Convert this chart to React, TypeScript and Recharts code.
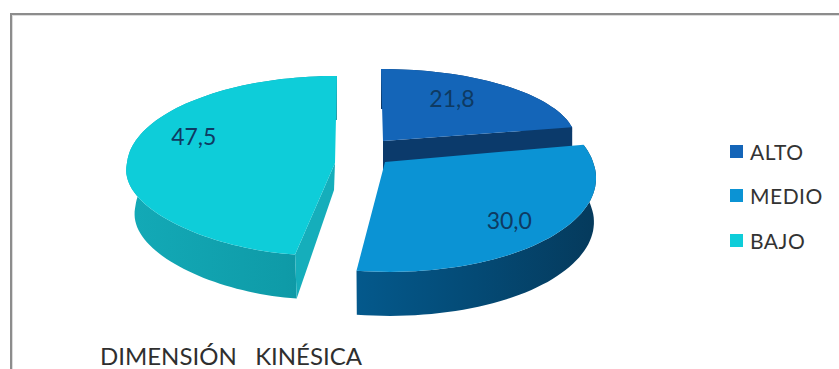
import { Legend, Pie, PieChart } from "recharts";

const CATEGORIES = ["ALTO", "MEDIO", "BAJO"];
const VALUES = [21.8, 30.0, 47.5];
const FILLS = ["#1465b8", "#0b93d4", "#0ecdd9"];

const rows = CATEGORIES.map((name, i) => ({ name, value: VALUES[i], fill: FILLS[i] }));

const WIDTH = 839;
const HEIGHT = 369;
const FONT = "Lato, 'Open Sans', sans-serif";

// Per-slice look of the exploded 3D pie: offset from the pie centre, foreshortening and extrusion.
const SLICES = [
  { dx: 23, dy: -22, rx: 193, ry: 72, k: 0, skewBack: -2, skewFront: 0, pinch: 0, drop: 40, taper: 1, wall: "#0b3a6b", cut: "#0b3a6b", label: [31.3, 0.7] },
  { dx: 25, dy: -1, rx: 208, ry: 93.4, k: 0.15, skewBack: 0, skewFront: -4, pinch: 0, drop: 44, taper: 0.99, wall: "url(#wallMedio)", cut: null, label: [136.6, 0.78] },
  { dx: -25, dy: 0, rx: 208, ry: 89.7, k: 0.03, skewBack: 2, skewFront: 14, pinch: 0.12, drop: 44, taper: 0.96, wall: "url(#wallBajo)", cut: "#15aebb", label: [293.5, 0.75] },
];

function project(s: (typeof SLICES)[number], theta: number, r = 1) {
  const rad = (theta * Math.PI) / 180;
  const u = Math.sin(rad) * r;
  const v = Math.cos(rad) * r;
  const w = 1 + s.k * v;
  const skew = v > 0 ? s.skewBack : s.skewFront;
  // front half of a slice can be drawn in slightly, so the rim flattens toward the viewer
  const rx = v < 0 ? s.rx * (1 - s.pinch * v * v) : s.rx;
  return { x: (rx * u + skew * v) / w, y: (-s.ry * v) / w };
}

function arcPoints(s: (typeof SLICES)[number], from: number, to: number) {
  const pts = [];
  const steps = Math.max(2, Math.ceil((to - from) / 2));
  for (let i = 0; i <= steps; i++) pts.push(project(s, from + ((to - from) * i) / steps));
  return pts;
}

function toPath(pts: { x: number; y: number }[]) {
  return pts.map((p, i) => `${i ? "L" : "M"}${p.x.toFixed(1)},${p.y.toFixed(1)}`).join(" ") + " Z";
}

function SliceShape(props: any) {
  const { cx, cy, startAngle, endAngle, index, fill } = props;
  const s = SLICES[index ?? 0];
  const from = 90 - startAngle;
  const to = 90 - endAngle;
  const rim = arcPoints(s, from, to);
  const lower = (p: { x: number; y: number }) => ({ x: p.x * s.taper, y: p.y + s.drop });
  const last = rim[rim.length - 1];
  const apex = { x: 0, y: 0 };
  return (
    <g transform={`translate(${cx + s.dx},${cy + s.dy})`}>
      <path d={toPath([...rim, ...rim.map(lower).reverse()])} fill={s.wall} />
      {index === 0 && (
        <path d={toPath([apex, last, lower(last), lower(apex)])} fill={s.cut ?? undefined} />
      )}
      {index === 2 && (
        <path d={toPath([apex, rim[0], lower(rim[0]), { x: -1, y: 27 }])} fill={s.cut ?? undefined} />
      )}
      <path d={toPath([apex, ...rim])} fill={fill} />
    </g>
  );
}

function sliceLabel(props: any) {
  const { cx, cy, index, value } = props;
  const s = SLICES[index];
  const p = project(s, s.label[0], s.label[1]);
  return (
    <text
      x={cx + s.dx + p.x}
      y={cy + s.dy + p.y}
      textAnchor="middle"
      dominantBaseline="central"
      fontFamily={FONT}
      fontSize={23}
      fill="#0e3a62"
    >
      {Number(value).toFixed(1).replace(".", ",")}
    </text>
  );
}

function LegendList({ payload }: any) {
  return (
    <div style={{ fontFamily: FONT, fontSize: 21, letterSpacing: 0.5, color: "#333" }}>
      {(payload ?? []).map((entry: any) => (
        <div key={entry.value} style={{ display: "flex", alignItems: "center", height: 44.5 }}>
          <span style={{ width: 13, height: 13, background: entry.color, marginRight: 7 }} />
          {entry.value}
        </div>
      ))}
    </div>
  );
}

export default function App() {
  return (
    <div style={{ position: "absolute", left: 0, top: 0, width: WIDTH, height: HEIGHT, background: "#fff", overflow: "hidden" }}>
      <div
        style={{
          position: "absolute",
          left: 10,
          top: 13,
          right: -5,
          bottom: -5,
          borderLeft: "2px solid #8c8c8c",
          borderTop: "2px solid #8c8c8c",
          boxShadow: "inset 1px 1px 0 #dcdcdc",
        }}
      />
      <PieChart width={WIDTH} height={HEIGHT} margin={{ top: 0, right: 0, bottom: 0, left: 0 }} style={{ position: "absolute" }}>
        <defs>
          <linearGradient id="wallMedio" x1="0" y1="0" x2="1" y2="0">
            <stop offset="0" stopColor="#04598c" />
            <stop offset="0.5" stopColor="#044a75" />
            <stop offset="1" stopColor="#053a5c" />
          </linearGradient>
          <linearGradient id="wallBajo" x1="0" y1="0" x2="1" y2="0">
            <stop offset="0" stopColor="#13aab7" />
            <stop offset="0.75" stopColor="#0f9ba8" />
            <stop offset="1" stopColor="#0d93a0" />
          </linearGradient>
        </defs>
        <Pie
          data={rows}
          dataKey="value"
          nameKey="name"
          cx={360}
          cy={163}
          outerRadius={208}
          startAngle={90}
          endAngle={-270}
          stroke="none"
          shape={SliceShape}
          label={sliceLabel}
          labelLine={false}
          isAnimationActive={false}
        />
        <Legend
          content={<LegendList />}
          itemSorter={null}
          wrapperStyle={{ left: 730, top: 129, width: 105, bottom: "auto", right: "auto" }}
        />
      </PieChart>
      <div
        style={{
          position: "absolute",
          left: 100,
          top: 341,
          fontFamily: FONT,
          fontSize: 24,
          color: "#2f2f2f",
          whiteSpace: "pre",
        }}
      >
        DIMENSIÓN   KINÉSICA
      </div>
    </div>
  );
}
